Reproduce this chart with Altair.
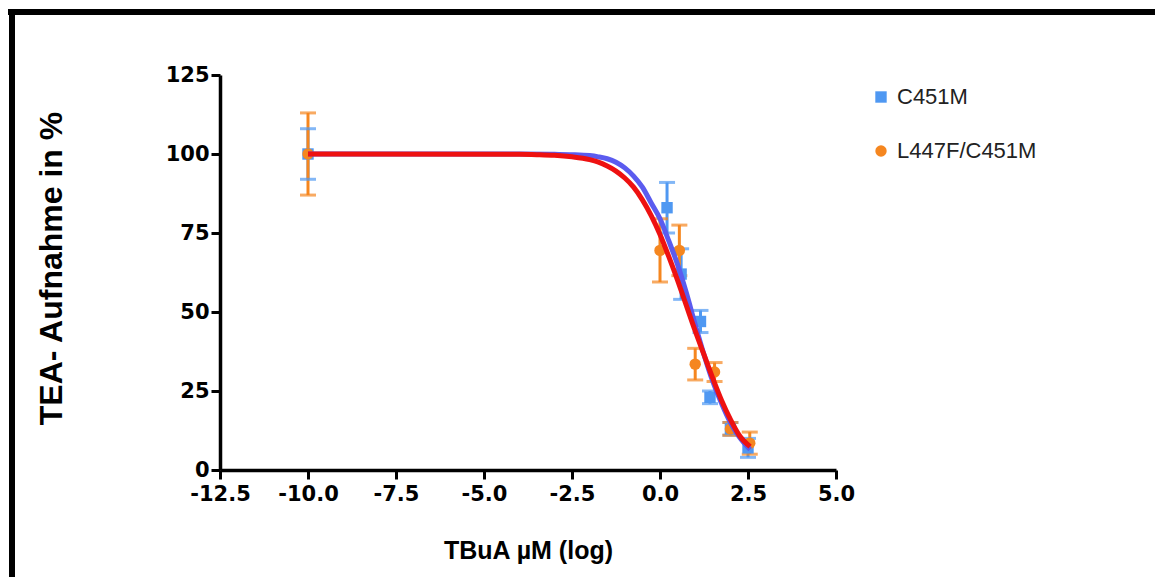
import altair as alt
import pandas as pd

# ---- data ----
series_names = ["C451M", "L447F/C451M"]

c451m_x = [-10.0, 0.2, 0.6, 1.15, 1.42, 2.0, 2.5]
c451m_y = [100, 83, 62, 47, 23, 13, 7]
c451m_err = [8, 8, 8, 3.5, 2, 2, 3]

l447f_x = [-10.0, 0.0, 0.55, 1.0, 1.55, 2.0, 2.55]
l447f_y = [100, 69.5, 69.5, 33.5, 31, 13, 8.5]
l447f_err = [13, 10, 8, 5, 3, 2, 3.5]

blue_fit_x = [-10, -4, -3, -2.5, -2, -1.75, -1.5, -1.25, -1.0, -0.75, -0.5, -0.25,
              0.0, 0.25, 0.5, 0.75, 1.0, 1.25, 1.5, 1.75, 2.0, 2.25, 2.56]
blue_fit_y = [100, 100, 99.9, 99.8, 99.5, 99.1, 98.5, 97.4, 95.6, 93.0, 89.5, 84.5,
              79.5, 72.5, 65, 56, 46, 36.5, 28, 21, 15, 10.5, 6.5]

red_fit_x = [-10, -4, -3.5, -3, -2.5, -2, -1.75, -1.5, -1.25, -1.0, -0.75, -0.5, -0.25,
             0.0, 0.25, 0.5, 0.75, 1.0, 1.25, 1.5, 1.75, 2.0, 2.25, 2.56]
red_fit_y = [100, 99.9, 99.8, 99.6, 99.1, 98.2, 97.4, 96.2, 94.6, 92.4, 89.5, 85.5, 80.5,
             74.5, 67.5, 60, 52, 44, 36.5, 29, 22, 16, 11, 7.4]

x_ticks = [-12.5, -10.0, -7.5, -5.0, -2.5, 0.0, 2.5, 5.0]
y_ticks = [0, 25, 50, 75, 100, 125]

# ---- tables ----
pts = pd.DataFrame({
    "x": c451m_x + l447f_x,
    "y": c451m_y + l447f_y,
    "err": c451m_err + l447f_err,
    "series": [series_names[0]] * len(c451m_x) + [series_names[1]] * len(l447f_x),
})
pts["lo"] = pts["y"] - pts["err"]
pts["hi"] = pts["y"] + pts["err"]

blue_fit = pd.DataFrame({"x": blue_fit_x, "y": blue_fit_y})
red_fit = pd.DataFrame({"x": red_fit_x, "y": red_fit_y})

PT_BLUE = "#4f98f2"
PT_ORANGE = "#f5861f"
CURVE_BLUE = "#5b5bef"
CURVE_RED = "#ee1111"

xscale = alt.Scale(domain=[-12.5, 5.0], nice=False, zero=False)
yscale = alt.Scale(domain=[0, 125], nice=False)
cscale = alt.Scale(domain=series_names, range=[PT_BLUE, PT_ORANGE])
sscale = alt.Scale(domain=series_names, range=["square", "circle"])

FONT = "Liberation Sans"
TICKFONT = "DejaVu Sans"

xaxis = alt.Axis(values=x_ticks,
                 labelExpr="(datum.value < 0 ? '-' : '') + format(abs(datum.value), '.1f')",
                 labelFlush=False,
                 title="TBuA µM (log)",
                 titleFontSize=25, titleX=308, titleY=80, titleBaseline="middle",
                 labelPadding=4)
yaxis = alt.Axis(values=y_ticks, format="d", title="TEA- Aufnahme in %",
                 labelFlush=False,
                 titleFontSize=32, titleX=-169, titleY=193, titleAngle=-90,
                 titleBaseline="middle", titleAlign="center", labelPadding=2)

base = alt.Chart(pts)
color_enc = alt.Color("series:N", scale=cscale, title=None)

bars = base.mark_rule(strokeWidth=3).encode(
    x=alt.X("x:Q", scale=xscale, axis=xaxis),
    y=alt.Y("lo:Q", scale=yscale, axis=yaxis),
    y2="hi:Q",
    color=color_enc,
)
caps_hi = base.mark_tick(orient="horizontal", size=16, thickness=3).encode(
    x="x:Q", y="hi:Q", color=color_enc)
caps_lo = base.mark_tick(orient="horizontal", size=16, thickness=3).encode(
    x="x:Q", y="lo:Q", color=color_enc)

points = base.mark_point(filled=True, opacity=1, size=130).encode(
    x="x:Q", y="y:Q",
    color=color_enc,
    shape=alt.Shape("series:N", scale=sscale, title=None),
)

blue_line = alt.Chart(blue_fit).mark_line(
    color=CURVE_BLUE, strokeWidth=5, interpolate="monotone").encode(x="x:Q", y="y:Q")
red_line = alt.Chart(red_fit).mark_line(
    color=CURVE_RED, strokeWidth=5, interpolate="monotone").encode(x="x:Q", y="y:Q")

# frame lines of the original picture (decoration)
frame_left = alt.Chart(pts).mark_rule(color="black", strokeWidth=5).encode(
    x=alt.value(-208), y=alt.value(-66), y2=alt.value(520))
frame_top = alt.Chart(pts).mark_rule(color="black", strokeWidth=5).encode(
    x=alt.value(-212), x2=alt.value(940), y=alt.value(-63))

chart = alt.layer(bars, caps_hi, caps_lo, points, blue_line, red_line,
                  frame_left, frame_top).properties(
    width=616, height=395,
    autosize=alt.AutoSizeParams(type="none"),
    padding={"left": 212, "top": 67, "right": 319, "bottom": 107},
).configure_view(stroke=None).configure_axis(
    labelFont=TICKFONT, titleFont=FONT, labelFontWeight="bold", titleFontWeight="bold",
    labelFontSize=21, labelColor="black", titleColor="black",
    domainColor="black", domainWidth=3.5, tickColor="black", tickWidth=3,
    tickSize=9, grid=False,
).configure_legend(
    orient="none", legendX=650, legendY=11, labelFont=FONT, labelFontSize=22,
    labelColor="#222222", symbolSize=130, rowPadding=32, labelOffset=5,
    padding=0, symbolStrokeWidth=0, symbolOpacity=1,
)

chart.save("out.html", embed_options={"renderer": "svg", "actions": False})
